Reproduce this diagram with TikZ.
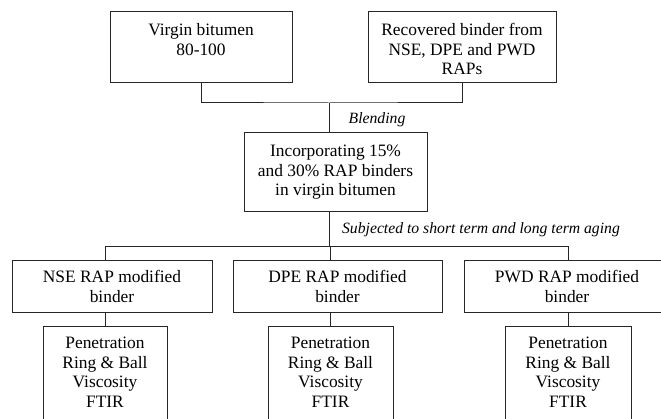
\documentclass[tikz,border=0pt]{standalone}
\usepackage{fontspec}
\setmainfont{Liberation Serif}
\newcommand{\tbox}[4]{\parbox[c][#2][t]{#1}{\centering\vspace*{#3}\strut #4\par}}
\tikzset{
  box/.style={draw=black!85, line width=1pt, inner sep=0pt, font=\fontsize{17.4}{19.5}\selectfont},
  conn/.style={draw=black!85, line width=1pt},
  lab/.style={inner sep=0pt, font=\fontsize{15.7}{18}\selectfont\itshape}
}
\begin{document}
\begin{tikzpicture}[x=1pt,y=-1pt]
\useasboundingbox (0,0) rectangle (661,419);
\clip (0,0) rectangle (661,419);
\fill[white] (0,0) rectangle (661,419);
% top row
\node[box] (vb) at (201,47.5) {\tbox{182pt}{71pt}{10.3pt}{Virgin bitumen\\80-100}};
\node[box] (rb) at (462,47.5) {\tbox{188pt}{71pt}{10.3pt}{Recovered binder from\\NSE, DPE and PWD\\RAPs}};
% middle
\node[box] (inc) at (335.5,172.5) {\tbox{183pt}{79pt}{10.3pt}{Incorporating 15\%\\and 30\% RAP binders\\in virgin bitumen}};
% modified binders
\node[box] (nse) at (112,287) {\tbox{200pt}{52pt}{8.3pt}{NSE RAP modified\\binder}};
\node[box] (dpe) at (337.5,287) {\tbox{209pt}{52pt}{8.3pt}{DPE RAP modified\\binder}};
\node[box] (pwd) at (567,287) {\tbox{206pt}{52pt}{8.3pt}{PWD RAP modified\\binder}};
% tests
\node[box] (t1) at (105,382) {\tbox{124pt}{110pt}{8.3pt}{Penetration\\Ring \& Ball\\Viscosity\\FTIR}};
\node[box] (t2) at (330.5,382) {\tbox{125pt}{110pt}{8.3pt}{Penetration\\Ring \& Ball\\Viscosity\\FTIR}};
\node[box] (t3) at (568,382) {\tbox{126pt}{110pt}{8.3pt}{Penetration\\Ring \& Ball\\Viscosity\\FTIR}};
% labels
\node[lab] (bl) at (377,120) {Blending};
\node[lab] (sj) at (481,230) {Subjected to short term and long term aging};
% connectors
\coordinate (j1) at (329,103);
\coordinate (j2) at (329,247);
\draw[conn] (vb.south) |- (j1) -| (rb.south);
\draw[conn] (j1) -- (j1 |- inc.north);
\draw[conn] (j2 |- inc.south) -- (j2);
\draw[conn] (t1.north |- nse.north) -- (t1.north |- j2) -- (t3.north |- j2) -- (t3.north |- pwd.north);
\draw[conn] (t2.north |- j2) -- (t2.north |- dpe.north);
\draw[conn] (t1.north |- nse.south) -- (t1.north);
\draw[conn] (t2.north |- dpe.south) -- (t2.north);
\draw[conn] (t3.north |- pwd.south) -- (t3.north);
\end{tikzpicture}
\end{document}
